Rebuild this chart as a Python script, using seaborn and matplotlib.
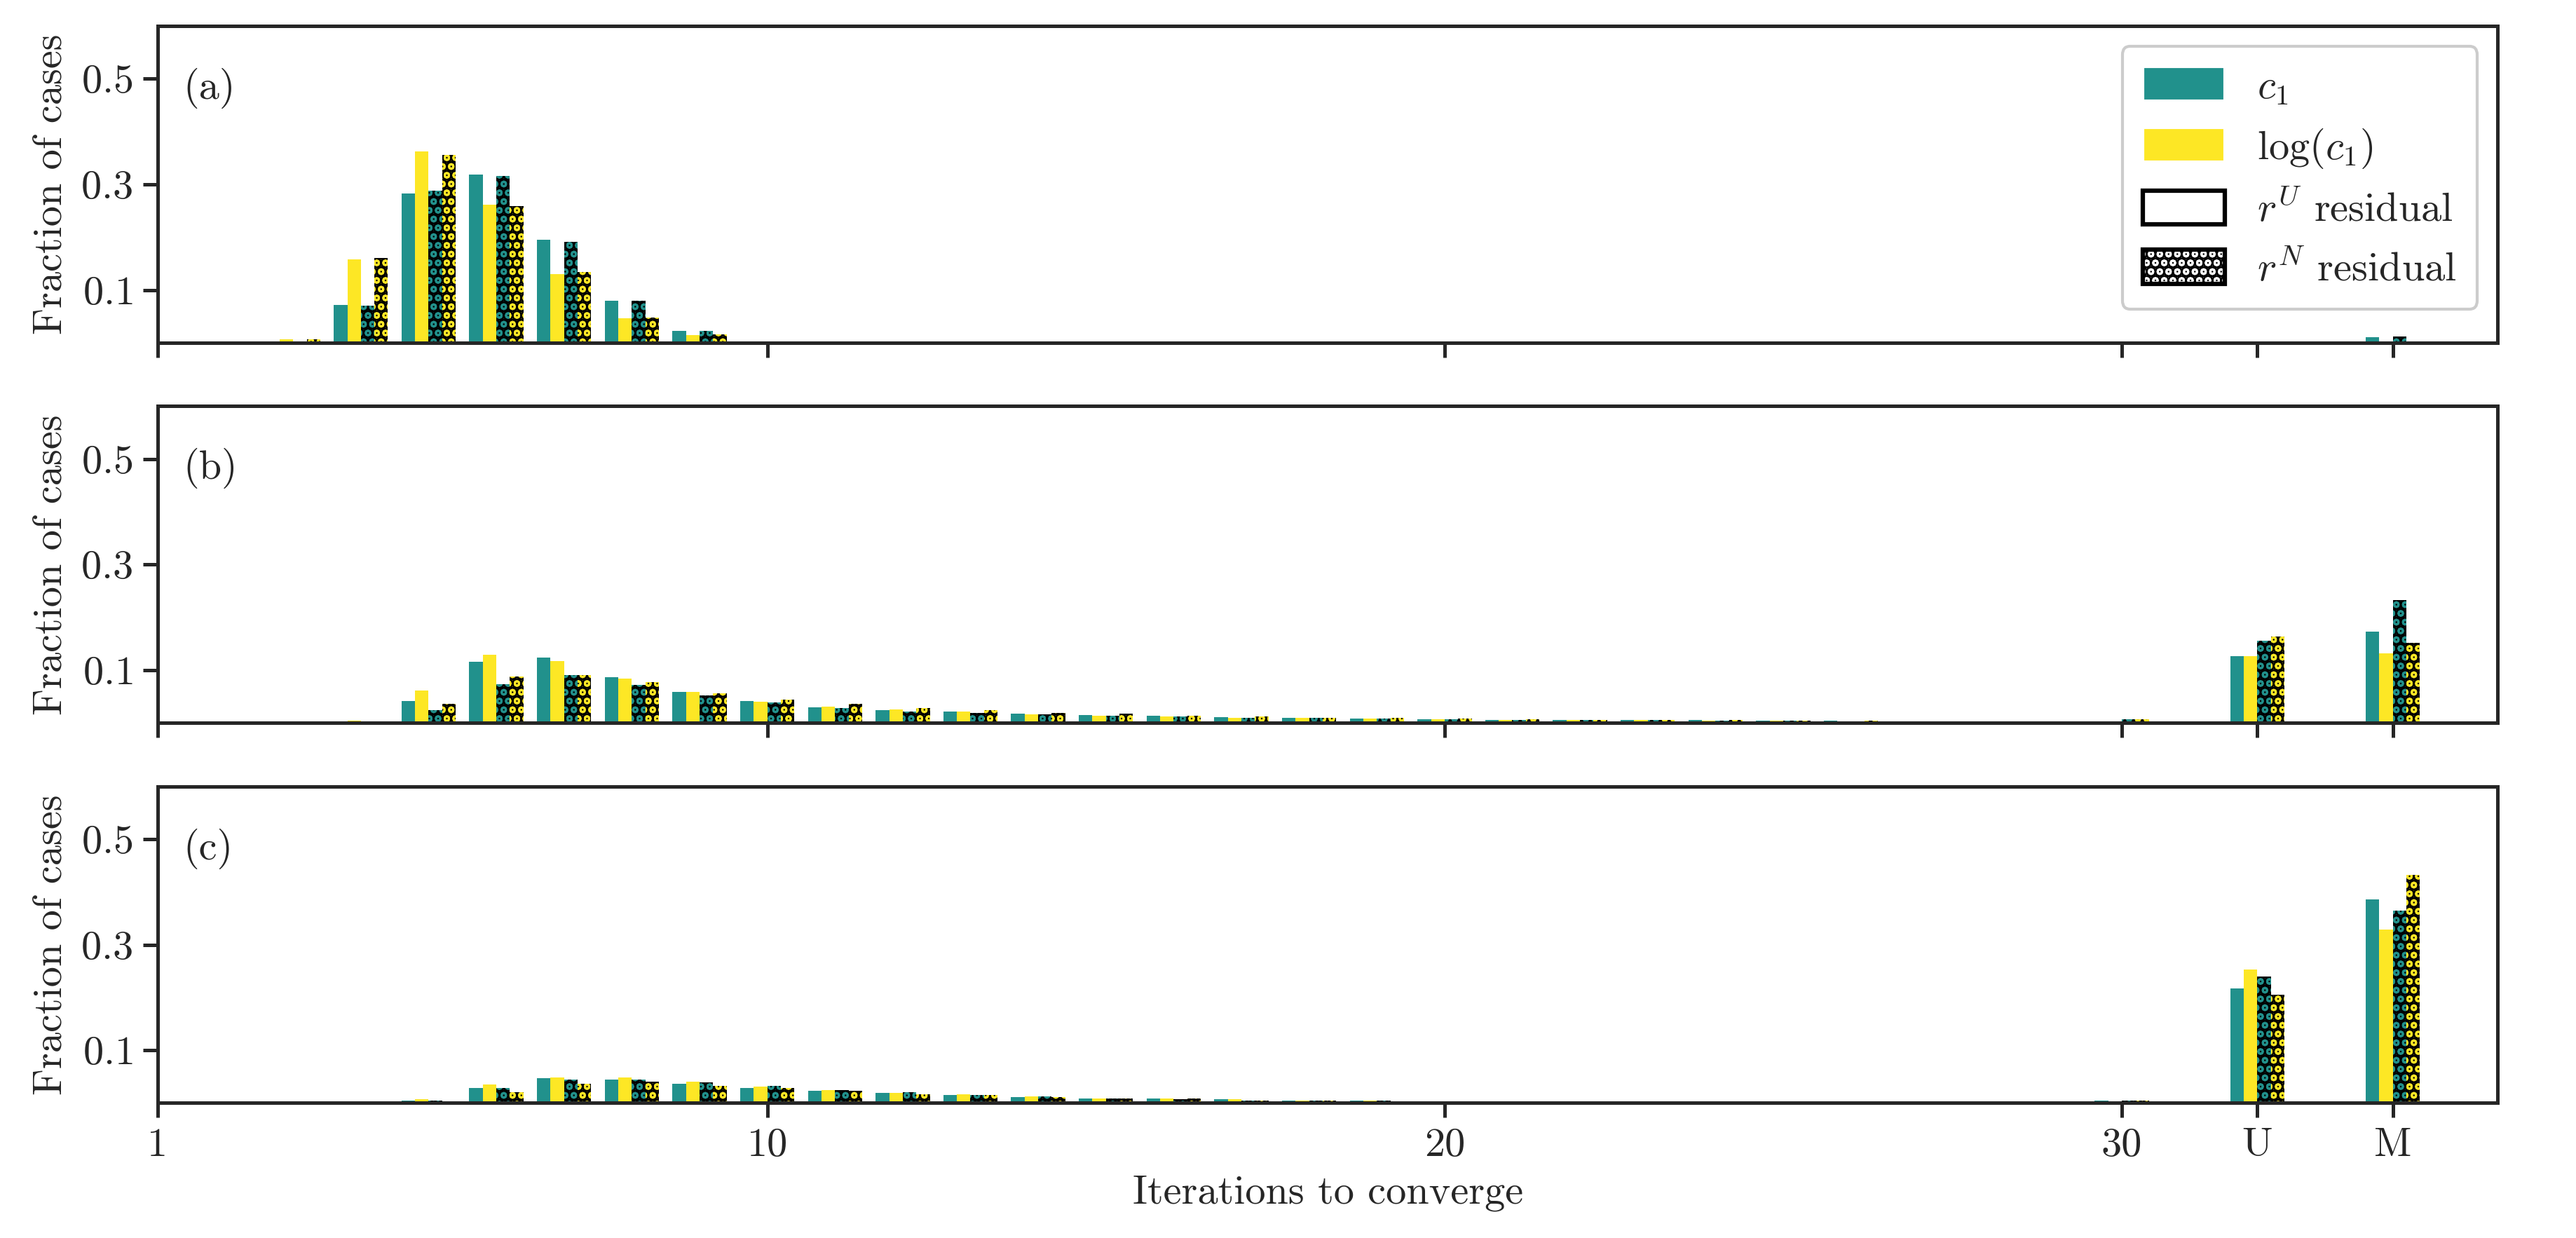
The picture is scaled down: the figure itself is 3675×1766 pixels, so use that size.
import numpy as np
import pandas as pd
import seaborn as sns
import matplotlib.pyplot as plt
from matplotlib.patches import Patch

sns.set_style("ticks")
plt.rcParams['font.family'] = ['serif']
plt.rcParams['font.serif'] = ['cmr10', 'DejaVu Serif']
plt.rcParams['mathtext.fontset'] = 'cm'
plt.rcParams['axes.formatter.use_mathtext'] = True
plt.rcParams['hatch.linewidth'] = 3.0
plt.rcParams['font.size'] = 14

# x positions: iterations 3..30, then U (=32) and M (=34)
iters = list(range(3, 31)) + [32, 34]
tick_pos = [1, 10, 20, 30, 32, 34]
tick_labels = ['1', '10', '20', '30', 'U', 'M']
series = ['c1 rU', 'log rU', 'c1 rN', 'log rN']

# Panel (a)
a_c1_U  = [0.000, 0.071, 0.283, 0.319, 0.195, 0.079, 0.022, 0.000] + [0]*20 + [0.000, 0.010]
a_log_U = [0.006, 0.158, 0.362, 0.262, 0.130, 0.047, 0.015, 0.002] + [0]*20 + [0.000, 0.000]
a_c1_N  = [0.002, 0.070, 0.288, 0.316, 0.191, 0.079, 0.022, 0.000] + [0]*20 + [0.000, 0.012]
a_log_N = [0.007, 0.160, 0.356, 0.259, 0.134, 0.048, 0.016, 0.000] + [0]*20 + [0.000, 0.000]

# Panel (b)
b_c1_U  = [0.000, 0.000, 0.041, 0.116, 0.124, 0.087, 0.059, 0.041, 0.029, 0.024, 0.021, 0.017, 0.015, 0.013,
           0.011, 0.010, 0.008, 0.007, 0.006, 0.006, 0.005, 0.005, 0.004, 0.004, 0.003, 0.003, 0.003, 0.002, 0.127, 0.173]
b_log_U = [0.000, 0.004, 0.061, 0.129, 0.117, 0.084, 0.059, 0.040, 0.031, 0.025, 0.021, 0.016, 0.014, 0.012,
           0.010, 0.009, 0.008, 0.007, 0.006, 0.005, 0.005, 0.004, 0.004, 0.003, 0.003, 0.003, 0.002, 0.003, 0.127, 0.132]
b_c1_N  = [0.000, 0.000, 0.024, 0.073, 0.091, 0.072, 0.052, 0.039, 0.028, 0.021, 0.019, 0.016, 0.014, 0.012,
           0.010, 0.009, 0.008, 0.007, 0.006, 0.005, 0.005, 0.004, 0.004, 0.003, 0.003, 0.003, 0.003, 0.007, 0.156, 0.232]
b_log_N = [0.000, 0.000, 0.036, 0.088, 0.091, 0.077, 0.056, 0.044, 0.036, 0.028, 0.024, 0.019, 0.017, 0.014,
           0.012, 0.010, 0.009, 0.008, 0.007, 0.006, 0.006, 0.005, 0.004, 0.004, 0.003, 0.003, 0.003, 0.007, 0.164, 0.151]

# Panel (c)
c_c1_U  = [0.000, 0.000, 0.004, 0.028, 0.047, 0.044, 0.036, 0.028, 0.023, 0.019, 0.015, 0.011, 0.009, 0.008,
           0.007, 0.005, 0.004, 0.003, 0.003, 0.002, 0.002, 0.002, 0.000, 0.002, 0.000, 0.000, 0.000, 0.004, 0.217, 0.386]
c_log_U = [0.000, 0.000, 0.007, 0.035, 0.049, 0.048, 0.040, 0.031, 0.024, 0.019, 0.017, 0.013, 0.009, 0.008,
           0.007, 0.005, 0.004, 0.003, 0.003, 0.002, 0.002, 0.002, 0.001, 0.000, 0.000, 0.000, 0.000, 0.003, 0.253, 0.329]
c_c1_N  = [0.000, 0.000, 0.005, 0.029, 0.044, 0.045, 0.039, 0.032, 0.024, 0.020, 0.015, 0.012, 0.009, 0.007,
           0.005, 0.004, 0.004, 0.003, 0.002, 0.002, 0.002, 0.002, 0.000, 0.000, 0.000, 0.000, 0.000, 0.004, 0.240, 0.364]
c_log_N = [0.000, 0.000, 0.003, 0.021, 0.036, 0.040, 0.033, 0.028, 0.023, 0.017, 0.015, 0.011, 0.009, 0.008,
           0.005, 0.004, 0.003, 0.003, 0.002, 0.002, 0.002, 0.002, 0.001, 0.000, 0.000, 0.000, 0.000, 0.004, 0.205, 0.432]

panels = [('(a)', [a_c1_U, a_log_U, a_c1_N, a_log_N]),
          ('(b)', [b_c1_U, b_log_U, b_c1_N, b_log_N]),
          ('(c)', [c_c1_U, c_log_U, c_c1_N, c_log_N])]

teal = '#21918c'
yellow = '#fde725'
palette = {series[0]: teal, series[1]: yellow, series[2]: teal, series[3]: yellow}

fig, axes = plt.subplots(3, 1, figsize=(12.253, 5.887), dpi=300)
fig.subplots_adjust(left=0.0612, right=0.9694, top=0.979, bottom=0.109, hspace=0.2)

for ax, (lab, vals) in zip(axes, panels):
    rows = []
    for s, v in zip(series, vals):
        for x, y in zip(iters, v):
            rows.append({'x': x, 'y': y, 's': s})
    df = pd.DataFrame(rows)
    sns.barplot(data=df, x='x', y='y', hue='s', hue_order=series, palette=palette,
                native_scale=True, width=0.8, ax=ax, legend=False, saturation=1,
                linewidth=0, errorbar=None)
    for i, cont in enumerate(ax.containers):
        for p in cont:
            p.set_linewidth(0)
            if i >= 2:
                p.set_hatch('....')
                p.set_edgecolor('black')
    ax.set_xlim(1, 35.55)
    ax.set_ylim(0, 0.6)
    ax.set_yticks([0.1, 0.3, 0.5])
    ax.set_xticks(tick_pos)
    ax.set_ylabel('Fraction of cases')
    ax.set_xlabel('')
    ax.tick_params(length=5, width=1.2)
    ax.text(0.011, 0.77, lab, transform=ax.transAxes, fontsize=14)
    for sp in ax.spines.values():
        sp.set_visible(True)
        sp.set_linewidth(1.2)
    if ax is axes[-1]:
        ax.set_xticklabels(tick_labels)
        ax.set_xlabel('Iterations to converge')
    else:
        ax.set_xticklabels([])

handles = [Patch(facecolor=teal, label=r'$c_1$'),
           Patch(facecolor=yellow, label=r'$\log(c_1)$'),
           Patch(facecolor='white', edgecolor='black', linewidth=1.5, label=r'$r^U$ residual'),
           Patch(facecolor='white', edgecolor='black', linewidth=1.5, hatch='....', label=r'$r^N$ residual')]
axes[0].legend(handles=handles, loc='upper right', fontsize=14, framealpha=1,
               handlelength=2.0, handleheight=0.9, borderpad=0.5, labelspacing=0.5)

fig.savefig('out.png', dpi=300)
